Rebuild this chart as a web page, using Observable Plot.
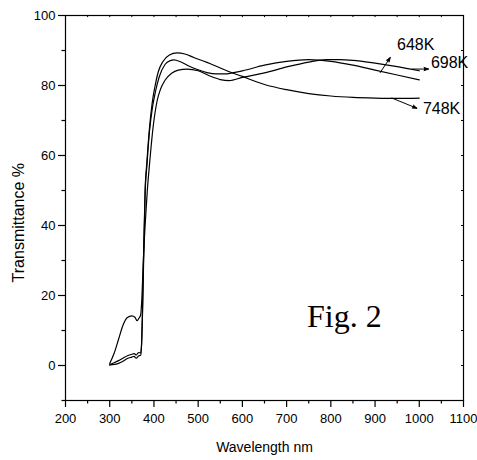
<!DOCTYPE html>
<html><head><meta charset="utf-8">
<script src="https://cdn.jsdelivr.net/npm/d3@7"></script>
<script src="https://cdn.jsdelivr.net/npm/@observablehq/plot@0.6"></script>
<style>body{margin:0;background:#fff;}</style>
</head><body><div id="chart"></div>
<script>
// Series: 648K
const wl648 = [300,310,320,330,340,350,355,360,365,370,372,374,377,380,384,390,397,403,412,425,437,445,460,480,500,520,540,560,580,600,650,700,750,800,850,900,950,1000];
const t648  = [0.3,0.8,1.4,2.1,2.8,3.2,3.4,3.0,3.7,3.6,6,14,32,49,57,67,74,78,82.5,86,87.1,87.3,86.8,85.5,84.5,83.7,83.3,83.3,83.7,84.2,85.8,86.9,87.4,86.9,85.8,84.4,83.0,81.6];
// Series: 698K
const wl698 = [300,310,320,330,340,350,357,362,366,370,373,376,380,385,390,398,407,415,425,440,455,475,500,525,550,570,600,650,700,750,790,820,850,900,950,1000];
const t698  = [0.6,3.5,7.5,11.5,13.7,14.2,13.8,12.8,13.5,14.5,20,30,40,50,57.5,68,75.5,79,81.5,83.5,84.4,84.7,84.2,82.8,81.7,81.4,82.3,83.6,85.3,86.7,87.4,87.4,87.2,86.4,85.4,84.2];
// Series: 748K
const wl748 = [300,310,320,330,340,350,355,360,365,370,372,374,377,380,384,390,396,402,410,420,435,452,470,490,520,550,575,600,633,650,700,750,800,850,900,950,1000];
const t748  = [0.1,0.3,0.6,1.2,2.0,2.4,2.6,2.1,2.7,2.9,6,15,34,50,58,68,75,79.5,84,86.8,88.7,89.3,89.0,88.0,86.6,85.0,83.7,82.6,81.0,80.3,78.8,77.7,77.0,76.6,76.4,76.3,76.4];

// Annotations
const labelNames = ["648K","698K","748K"];
const labelX = [949.6, 1026.3, 1008.2];
const labelY = [91.7, 86.6, 73.3];
const arrowX1 = [911.7, 984.7, 938.1];
const arrowY1 = [83.7, 84.7, 76.4];
const arrowX2 = [934.3, 1020.8, 994.6];
const arrowY2 = [88.0, 84.7, 73.5];

// Ticks
const xMajor = [200,300,400,500,600,700,800,900,1000,1100];
const xMinor = [250,350,450,550,650,750,850,950,1050];
const yMajor = [0,20,40,60,80,100];
const yMinor = [-10,10,30,50,70,90];
const topTicks = [250,300,350,400,450,500,550,600,650,700,750,800,850,900,950,1000,1050];
const rightTicks = [-10,0,10,20,30,40,50,60,70,80,90,100];

const series = [
  {wl: wl648, t: t648},
  {wl: wl698, t: t698},
  {wl: wl748, t: t748}
];
const lines = series.map(s => s.wl.map((w, i) => ({wl: w, t: s.t[i]})));
const labels = labelNames.map((n, i) => ({n, x: labelX[i], y: labelY[i]}));
const arrows = labelNames.map((n, i) => ({x1: arrowX1[i], y1: arrowY1[i], x2: arrowX2[i], y2: arrowY2[i]}));

const sans = "'Liberation Sans', Arial, Helvetica, sans-serif";

const chart = Plot.plot({
  width: 477, height: 460,
  marginLeft: 65, marginRight: 14, marginTop: 15, marginBottom: 60,
  style: {fontFamily: sans, fontSize: "13px", background: "white", color: "black", overflow: "visible"},
  x: {domain: [200, 1100]},
  y: {domain: [-10, 100]},
  marks: [
    Plot.frame({stroke: "black", strokeWidth: 1.2}),
    Plot.axisX({ticks: xMajor, tickSize: 7, tickPadding: 6, tickFormat: d => String(d), label: null, fontSize: 13, strokeWidth: 1.2}),
    Plot.axisX({ticks: xMinor, tickSize: 3.5, tickFormat: () => "", label: null, strokeWidth: 1.2}),
    Plot.axisY({ticks: yMajor, tickSize: 7, tickPadding: 3, tickFormat: d => String(d), label: null, fontSize: 13, strokeWidth: 1.2}),
    Plot.axisY({ticks: yMinor, tickSize: 3.5, tickFormat: () => "", label: null, strokeWidth: 1.2}),
    Plot.ruleX(topTicks, {x: d => d, y1: 100, y2: 99.4, stroke: "black"}),
    Plot.ruleY(rightTicks, {y: d => d, x1: 1100, x2: 1095.5, stroke: "black"}),
    ...lines.map(l => Plot.line(l, {x: "wl", y: "t", stroke: "black", strokeWidth: 1.2, curve: "monotone-x"})),
    Plot.arrow(arrows, {x1: "x1", y1: "y1", x2: "x2", y2: "y2", stroke: "black", strokeWidth: 1, headLength: 7, headAngle: 40}),
    Plot.text(labels, {x: "x", y: "y", text: "n", textAnchor: "start", lineAnchor: "middle", fontSize: 16, fill: "black"}),
    Plot.text(["Fig. 2"], {x: 746, y: 11, text: d => d, textAnchor: "start", lineAnchor: "bottom", fontSize: 32, fontFamily: "'Liberation Serif', 'Times New Roman', serif", fill: "black"}),
    Plot.text(["Wavelength nm"], {x: 650, y: -23.5, text: d => d, lineAnchor: "middle", fontSize: 14, fill: "black"}),
    Plot.text(["Transmittance %"], {x: 94, y: 40.8, text: d => d, rotate: -90, lineAnchor: "middle", fontSize: 16, fill: "black"})
  ]
});
chart.querySelectorAll('[aria-label="arrow"] path').forEach(p => p.setAttribute("fill", "black"));
document.getElementById("chart").appendChild(chart);
</script>
</body></html>
